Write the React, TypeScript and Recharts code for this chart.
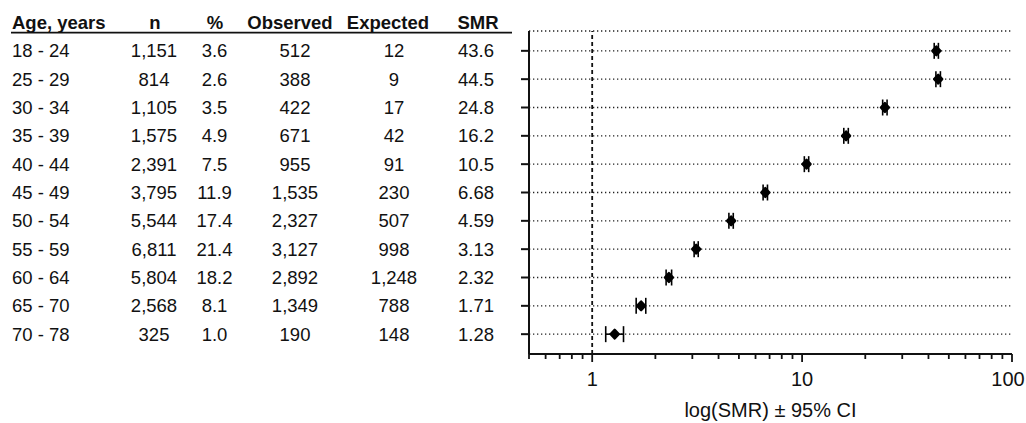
import { ScatterChart, Scatter, XAxis, YAxis, CartesianGrid, ReferenceLine, ErrorBar } from "recharts";

// table rows (top to bottom)
const AGES = ["18 - 24", "25 - 29", "30 - 34", "35 - 39", "40 - 44", "45 - 49", "50 - 54", "55 - 59", "60 - 64", "65 - 70", "70 - 78"];
const N = [1151, 814, 1105, 1575, 2391, 3795, 5544, 6811, 5804, 2568, 325];
const PCT = [3.6, 2.6, 3.5, 4.9, 7.5, 11.9, 17.4, 21.4, 18.2, 8.1, 1.0];
const OBSERVED = [512, 388, 422, 671, 955, 1535, 2327, 3127, 2892, 1349, 190];
const EXPECTED = [12, 9, 17, 42, 91, 230, 507, 998, 1248, 788, 148];
const SMR = [43.6, 44.5, 24.8, 16.2, 10.5, 6.68, 4.59, 3.13, 2.32, 1.71, 1.28];
const CI_LOW = [42.6, 43.4, 24.2, 15.8, 10.25, 6.52, 4.48, 3.06, 2.25, 1.62, 1.16];
const CI_HIGH = [44.6, 45.6, 25.4, 16.6, 10.75, 6.84, 4.70, 3.20, 2.39, 1.80, 1.41];

const X_TICKS = [0.5, 0.6, 0.7, 0.8, 0.9, 1, 2, 3, 4, 5, 6, 7, 8, 9, 10, 20, 30, 40, 50, 60, 70, 80, 90, 100];
const MAJOR = [1, 10, 100];

const data = SMR.map((v, i) => ({
    idx: i,
    smr: v,
    err: [v - CI_LOW[i], CI_HIGH[i] - v],
}));

const FONT = "'Liberation Sans', Arial, sans-serif";
const TABLE_SIZE = 18.5;

// column centres (page x)
const COLS = { age: 12, n: 154, pct: 214.5, obs: 295, exp: 394, smr: 476 };
const HEAD = { n: 155, pct: 215, obs: 290, exp: 388, smr: 478 };

const RowTick = (props: any) => {
    const { x, y, payload } = props;
    const i = payload.value as number;
    const t = { fontFamily: FONT, fontSize: TABLE_SIZE, fill: "#111" };
    return (
        <g>
            <line x1={x - 8} x2={x} y1={y} y2={y} stroke="#111" strokeWidth={2} />
            <text {...t} x={COLS.age} y={y} dy="0.36em">{AGES[i]}</text>
            <text {...t} x={COLS.n} y={y} dy="0.36em" textAnchor="middle">{N[i].toLocaleString("en-US")}</text>
            <text {...t} x={COLS.pct} y={y} dy="0.36em" textAnchor="middle">{PCT[i].toFixed(1)}</text>
            <text {...t} x={COLS.obs} y={y} dy="0.36em" textAnchor="middle">{OBSERVED[i].toLocaleString("en-US")}</text>
            <text {...t} x={COLS.exp} y={y} dy="0.36em" textAnchor="middle">{EXPECTED[i].toLocaleString("en-US")}</text>
            <text {...t} x={COLS.smr} y={y} dy="0.36em" textAnchor="middle">{String(SMR[i])}</text>
            {i === 0 && (
                <g fontWeight="bold">
                    <text {...t} x={COLS.age} y={29}>Age, years</text>
                    <text {...t} x={HEAD.n} y={29} textAnchor="middle">n</text>
                    <text {...t} x={HEAD.pct} y={29} textAnchor="middle">%</text>
                    <text {...t} x={HEAD.obs} y={29} textAnchor="middle">Observed</text>
                    <text {...t} x={HEAD.exp} y={29} textAnchor="middle">Expected</text>
                    <text {...t} x={HEAD.smr} y={29} textAnchor="middle">SMR</text>
                    <line x1={11} x2={512} y1={32.7} y2={32.7} stroke="#111" strokeWidth={1.8} />
                </g>
            )}
        </g>
    );
};

const LogTick = (props: any) => {
    const { x, y, payload } = props;
    const major = MAJOR.includes(payload.value);
    return (
        <g>
            <line x1={x} x2={x} y1={y} y2={y + (major ? 8 : 5)} stroke="#111" strokeWidth={1.8} />
            {major && (
                <text x={Math.min(x, 1008)} y={y + 32} textAnchor="middle" fontFamily={FONT} fontSize={20} fill="#111">
                    {payload.value}
                </text>
            )}
        </g>
    );
};

const Marker = (props: any) => {
    const { cx, cy } = props;
    return (
        <polygon
            points={`${cx},${cy - 4.4} ${cx + 4},${cy} ${cx},${cy + 4.4} ${cx - 4},${cy}`}
            fill="#000"
            stroke="#000"
            strokeWidth={2.4}
            strokeLinejoin="round"
        />
    );
};

export default function App() {
    return (
        <div style={{ position: "absolute", left: 0, top: 0, background: "#fff" }}>
            <ScatterChart width={1026} height={423} margin={{ top: 31, right: 14, left: 0, bottom: 0 }}>
                <CartesianGrid vertical={false} stroke="#222" strokeWidth={1.3} strokeDasharray="1.3 2.7" />
                <XAxis
                    type="number"
                    dataKey="smr"
                    scale="log"
                    domain={[0.5, 100]}
                    allowDataOverflow
                    ticks={X_TICKS}
                    interval={0}
                    tickSize={0}
                    tickMargin={0}
                    tick={<LogTick />}
                    height={69}
                    axisLine={{ stroke: "#111", strokeWidth: 2 }}
                    label={(p: any) => {
                        const vb = p.viewBox;
                        return (
                            <text x={vb.x + vb.width / 2} y={417} textAnchor="middle" fontFamily={FONT} fontSize={20} fill="#111">
                                log(SMR) ± 95% CI
                            </text>
                        );
                    }}
                />
                <YAxis
                    type="number"
                    dataKey="idx"
                    reversed
                    domain={[-0.7, 10.7]}
                    ticks={AGES.map((_, i) => i)}
                    interval={0}
                    width={529}
                    tickSize={0}
                    tickMargin={0}
                    tick={<RowTick />}
                    axisLine={{ stroke: "#111", strokeWidth: 2 }}
                />
                <ReferenceLine x={1} stroke="#111" strokeWidth={1.8} strokeDasharray="4 3" />
                <Scatter data={data} shape={<Marker />} isAnimationActive={false}>
                    <ErrorBar dataKey="err" direction="x" width={8} stroke="#000" strokeWidth={1.6} />
                </Scatter>
            </ScatterChart>
        </div>
    );
}
